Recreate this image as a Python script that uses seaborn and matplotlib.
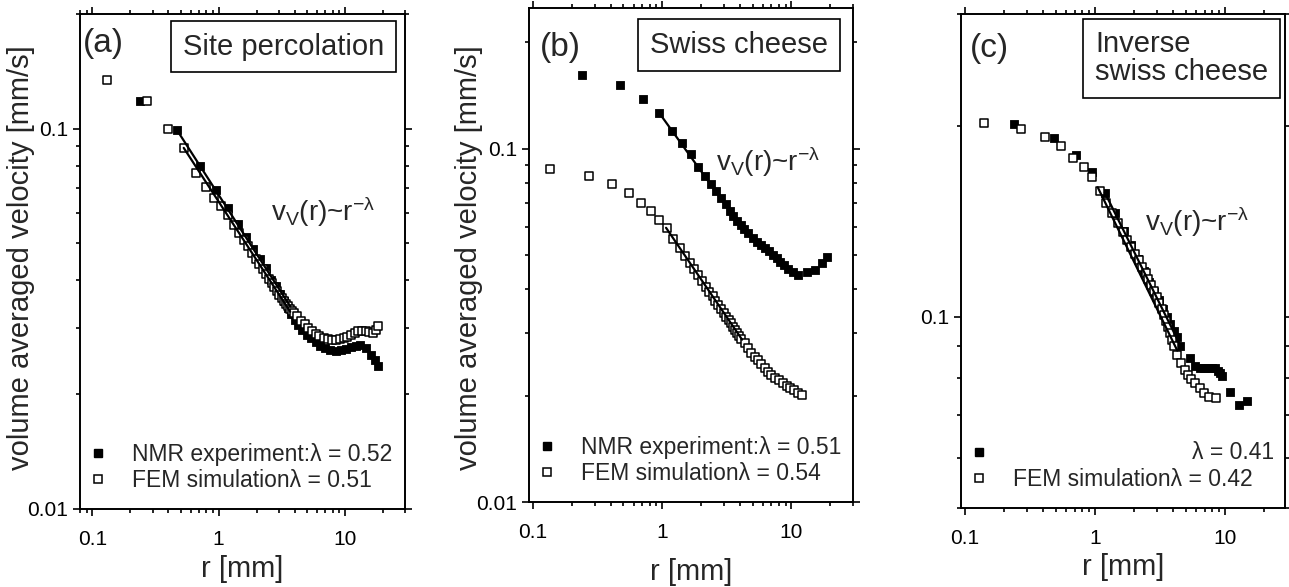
import seaborn as sns
import matplotlib.pyplot as plt
from matplotlib.lines import Line2D
from matplotlib.ticker import FixedLocator, FixedFormatter, LogLocator, NullFormatter

# (a) site percolation
a_nmr_r = [0.24, 0.47, 0.71, 0.95, 1.18, 1.42, 1.65, 1.89, 2.12, 2.36, 2.6, 2.83, 3.07, 3.3,
           3.54, 3.78, 4.01, 4.25, 4.6, 5.0, 5.4, 5.9, 6.4, 7.0, 7.7, 8.5, 9.3, 10.2, 11.2,
           12.3, 13.3, 14.7, 16.2, 17.3, 18.3]
a_nmr_v = [0.118, 0.099, 0.080, 0.069, 0.0617, 0.056, 0.0518, 0.0483, 0.0455, 0.043, 0.0400,
           0.0385, 0.0368, 0.0352, 0.0338, 0.0326, 0.0314, 0.0304, 0.0296, 0.0287, 0.0281,
           0.0274, 0.0269, 0.0265, 0.0262, 0.0261, 0.0262, 0.0264, 0.0266, 0.0268, 0.0270,
           0.0265, 0.0254, 0.0246, 0.0237]
a_fem_r = [0.13, 0.27, 0.40, 0.53, 0.66, 0.79, 0.92, 1.05, 1.18, 1.32, 1.45, 1.58, 1.71, 1.85,
           1.98, 2.11, 2.24, 2.38, 2.51, 2.64, 2.77, 2.9, 3.04, 3.17, 3.3, 3.43, 3.56, 3.7,
           3.83, 3.96, 4.2, 4.5, 4.8, 5.1, 5.5, 5.9, 6.3, 6.8, 7.3, 7.9, 8.5, 9.1, 9.8, 10.5,
           11.2, 12.0, 12.8, 13.7, 14.6, 15.6, 16.6, 17.6, 18.3]
a_fem_v = [0.134, 0.118, 0.100, 0.089, 0.0766, 0.0704, 0.0658, 0.0625, 0.0592, 0.0559, 0.0533,
           0.051, 0.049, 0.047, 0.0455, 0.044, 0.0427, 0.0414, 0.0403, 0.0392, 0.0383, 0.0374,
           0.0366, 0.0359, 0.0352, 0.0346, 0.0341, 0.0336, 0.0332, 0.0328, 0.0321, 0.0313,
           0.0306, 0.0300, 0.0294, 0.0289, 0.0285, 0.0282, 0.0280, 0.0279, 0.0279, 0.0280,
           0.0282, 0.0284, 0.0287, 0.0291, 0.0294, 0.0294, 0.0293, 0.0292, 0.0290, 0.0295, 0.0303]
a_fit_nmr = ([0.47, 3.7], [0.099, 0.0341])
a_fit_fem = ([0.53, 3.7], [0.089, 0.0330])

# (b) swiss cheese
b_nmr_r = [0.24, 0.47, 0.71, 0.95, 1.19, 1.43, 1.66, 1.9, 2.14, 2.38, 2.62, 2.85, 3.09, 3.33,
           3.56, 3.8, 4.04, 4.28, 4.6, 5.0, 5.4, 5.8, 6.2, 6.7, 7.2, 7.7, 8.2, 8.8, 9.4, 10.3,
           11.2, 13.2, 15.2, 17.2, 18.8]
b_nmr_v = [0.162, 0.151, 0.138, 0.126, 0.112, 0.104, 0.0965, 0.0889, 0.0835, 0.0795, 0.0758,
           0.0725, 0.0695, 0.0668, 0.0645, 0.0625, 0.0607, 0.0592, 0.0578, 0.0560, 0.0545,
           0.0535, 0.0524, 0.0512, 0.0501, 0.049, 0.0478, 0.0467, 0.0457, 0.0448, 0.0440,
           0.0448, 0.0454, 0.0476, 0.0494]
b_fem_r = [0.136, 0.27, 0.41, 0.55, 0.68, 0.82, 0.95, 1.09, 1.22, 1.36, 1.5, 1.63, 1.77, 1.9,
           2.04, 2.18, 2.31, 2.45, 2.58, 2.72, 2.86, 2.99, 3.13, 3.26, 3.4, 3.54, 3.67, 3.81,
           3.94, 4.08, 4.35, 4.62, 4.9, 5.2, 5.5, 5.85, 6.2, 6.6, 7.0, 7.5, 8.0, 8.6, 9.2,
           9.8, 10.5, 11.2, 12.0]
b_fem_v = [0.0878, 0.0838, 0.0796, 0.075, 0.0703, 0.0667, 0.0629, 0.0597, 0.0556, 0.0525,
           0.0497, 0.0476, 0.0455, 0.0438, 0.0421, 0.0407, 0.0394, 0.0382, 0.0371, 0.0361,
           0.0351, 0.0343, 0.0334, 0.0327, 0.032, 0.0313, 0.0307, 0.0301, 0.0295, 0.029,
           0.0281, 0.0272, 0.0264, 0.0257, 0.0252, 0.0246, 0.0240, 0.0234, 0.0229, 0.0225,
           0.0221, 0.0217, 0.0213, 0.021, 0.0207, 0.0204, 0.0201]
b_fit_nmr = ([0.95, 4.6], [0.126, 0.0565])
b_fit_fem = ([1.07, 4.15], [0.0597, 0.0288])

# (c) inverse swiss cheese
c_nmr_r = [0.24, 0.48, 0.71, 0.95, 1.19, 1.43, 1.67, 1.9, 2.14, 2.38, 2.62, 2.86, 3.09, 3.33,
           3.57, 3.81, 4.05, 4.28, 4.52, 5.4, 5.9, 6.4, 6.9, 7.4, 7.9, 8.4, 8.8, 9.2, 9.5,
           10.9, 12.9, 14.8]
c_nmr_v = [0.201, 0.191, 0.180, 0.169, 0.157, 0.1456, 0.1366, 0.1296, 0.1234, 0.1182, 0.1136,
           0.1096, 0.1062, 0.1030, 0.1001, 0.0975, 0.095, 0.0929, 0.0900, 0.0860, 0.0838,
           0.0830, 0.0830, 0.0831, 0.0832, 0.0830, 0.0823, 0.0816, 0.0808, 0.0762, 0.0727,
           0.0738]
c_fem_r = [0.14, 0.27, 0.41, 0.55, 0.68, 0.82, 0.95, 1.09, 1.22, 1.36, 1.5, 1.63, 1.77, 1.9,
           2.04, 2.18, 2.31, 2.45, 2.58, 2.72, 2.86, 2.99, 3.13, 3.26, 3.4, 3.54, 3.67, 3.81,
           3.94, 4.08, 4.3, 4.6, 4.9, 5.2, 5.5, 5.9, 6.4, 6.9, 7.6, 8.6]
c_fem_v = [0.202, 0.198, 0.192, 0.186, 0.178, 0.172, 0.166, 0.158, 0.151, 0.1455, 0.1405,
           0.136, 0.1322, 0.1288, 0.1257, 0.1228, 0.1200, 0.1172, 0.1148, 0.1122, 0.1097,
           0.1073, 0.1050, 0.1030, 0.1008, 0.0986, 0.0965, 0.0942, 0.0921, 0.0900, 0.0870,
           0.0845, 0.0826, 0.0810, 0.0798, 0.0787, 0.0773, 0.0760, 0.0748, 0.0746]
c_fit_nmr = ([1.19, 4.5], [0.157, 0.0905])
c_fit_fem = ([1.05, 4.3], [0.160, 0.0885])

titles = ["Site percolation", "Swiss cheese", "Inverse\nswiss cheese"]
tags = ["(a)", "(b)", "(c)"]
nmr_labels = ["NMR experiment:λ = 0.52", "NMR experiment:λ = 0.51", " "]
fem_labels = ["FEM simulationλ = 0.51", "FEM simulationλ = 0.54", "FEM simulationλ = 0.42"]

sns.set_theme(style="ticks")
plt.rcParams['font.family'] = ['Liberation Sans', 'DejaVu Sans']
plt.rcParams['mathtext.fontset'] = 'custom'
plt.rcParams['mathtext.rm'] = 'Liberation Sans'
plt.rcParams['mathtext.it'] = 'Liberation Sans'

fig = plt.figure(figsize=(12.89, 5.87), dpi=100)
positions = [[0.0621, 0.1329, 0.2521, 0.843],
             [0.4104, 0.1448, 0.2514, 0.8416],
             [0.7455, 0.1346, 0.2514, 0.8416]]
xlims = [(0.08, 30), (0.093, 30), (0.093, 29)]
ylims = [(0.01, 0.2), (0.01, 0.25), (0.05, 0.3)]
title_pos = [(0.317, 0.934), (0.373, 0.925), (0.414, 0.91)]
tag_pos = [(0.01, 0.94), (0.034, 0.919), (0.028, 0.931)]
law_pos = [(0.748, 0.60), (0.738, 0.688), (0.728, 0.579)]
xlabel_y = [-0.093, -0.113, -0.091]
ylabel_xy = [(-0.138, 0.507), (-0.142, 0.494)]

data = [(a_nmr_r, a_nmr_v, a_fem_r, a_fem_v, a_fit_nmr, a_fit_fem),
        (b_nmr_r, b_nmr_v, b_fem_r, b_fem_v, b_fit_nmr, b_fit_fem),
        (c_nmr_r, c_nmr_v, c_fem_r, c_fem_v, c_fit_nmr, c_fit_fem)]

for i, (nr, nv, fr, fv, fit_n, fit_f) in enumerate(data):
    ax = fig.add_axes(positions[i])
    sns.scatterplot(x=nr, y=nv, ax=ax, marker='s', s=40, color='black',
                    edgecolor='black', linewidth=0.6, zorder=3)
    sns.scatterplot(x=fr, y=fv, ax=ax, marker='s', s=40, color='white',
                    edgecolor='black', linewidth=1.1, zorder=4)
    sns.lineplot(x=fit_n[0], y=fit_n[1], ax=ax, color='black', lw=1.6, zorder=5)
    sns.lineplot(x=fit_f[0], y=fit_f[1], ax=ax, color='black', lw=1.6, zorder=5)

    ax.set_xscale('log')
    ax.set_yscale('log')
    ax.set_xlim(*xlims[i])
    ax.set_ylim(*ylims[i])
    ax.xaxis.set_major_locator(FixedLocator([0.1, 1, 10]))
    ax.xaxis.set_major_formatter(FixedFormatter(["0.1", "1", "10"]))
    ax.xaxis.set_minor_locator(LogLocator(base=10, subs=range(2, 10)))
    ax.xaxis.set_minor_formatter(NullFormatter())
    if i < 2:
        ax.yaxis.set_major_locator(FixedLocator([0.01, 0.1]))
        ax.yaxis.set_major_formatter(FixedFormatter(["0.01", "0.1"]))
    else:
        ax.yaxis.set_major_locator(FixedLocator([0.1]))
        ax.yaxis.set_major_formatter(FixedFormatter(["0.1"]))
    ax.yaxis.set_minor_locator(LogLocator(base=10, subs=range(2, 10)))
    ax.yaxis.set_minor_formatter(NullFormatter())
    ax.tick_params(which='both', direction='out', top=True, right=True, color='black',
                   width=1.2, labelsize=15, labelcolor='black')
    ax.tick_params(which='major', length=5)
    ax.tick_params(which='minor', length=3)
    ax.tick_params(axis='x', which='major', pad=10)
    for sp in ax.spines.values():
        sp.set_linewidth(1.4)
        sp.set_color('black')

    ax.set_xlabel("r [mm]", fontsize=21)
    ax.xaxis.set_label_coords(0.5, xlabel_y[i])
    if i < 2:
        ax.set_ylabel("volume averaged velocity [mm/s]", fontsize=21)
        ax.yaxis.set_label_coords(*ylabel_xy[i])

    ax.text(*tag_pos[i], tags[i], transform=ax.transAxes, fontsize=24,
            ha='left', va='center')
    ax.text(*title_pos[i], titles[i], transform=ax.transAxes, fontsize=21,
            ha='left', va='center', linespacing=1.0,
            bbox=dict(boxstyle='square,pad=0.4', fc='white', ec='black', lw=1.2))
    ax.text(*law_pos[i], r'v$_\mathregular{V}$(r)~r$^\mathregular{-λ}$',
            transform=ax.transAxes, fontsize=20, ha='center', va='center')

    handles = [Line2D([], [], ls='none', marker='s', markersize=6.3, mfc='black', mec='black'),
               Line2D([], [], ls='none', marker='s', markersize=6.3, mfc='white', mec='black',
                      mew=1.1)]
    ax.legend(handles, [nmr_labels[i], fem_labels[i]], loc='lower left',
              bbox_to_anchor=(0.02, 0.035), frameon=False, fontsize=16.5,
              handlelength=1.0, handletextpad=1.0, labelspacing=0.12,
              borderpad=0, borderaxespad=0)
    if i == 2:
        ax.text(0.965, 0.113, "λ = 0.41", transform=ax.transAxes, fontsize=16.5,
                ha='right', va='center')

fig.savefig("out.png", dpi=100)
